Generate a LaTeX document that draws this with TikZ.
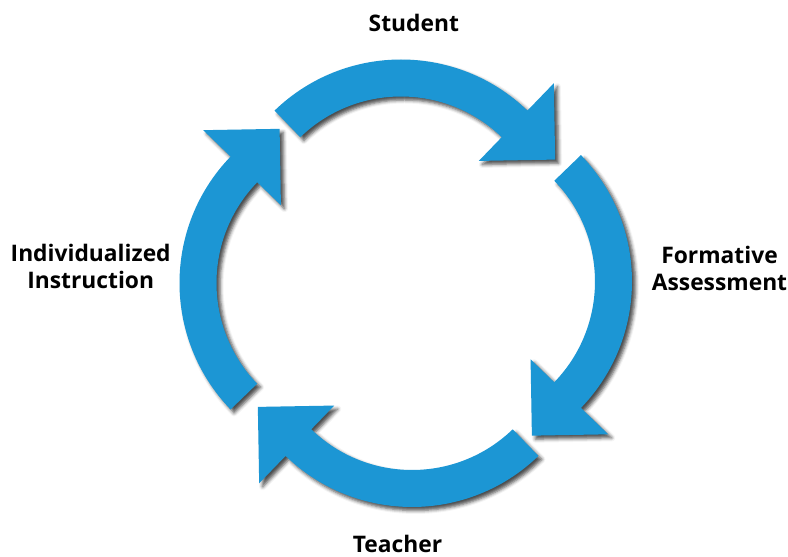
\documentclass[tikz,border=0pt]{standalone}
\usepackage{fontspec}
\setmainfont{Open Sans}
\usepackage{tikz}
\usetikzlibrary{calc,shadows.blur}
\definecolor{cycleblue}{RGB}{28,150,212}
\tikzset{
	cyclearrow/.style={
			fill=cycleblue, draw=none,
			blur shadow={shadow xshift=3.5pt, shadow yshift=-3.5pt,
					shadow blur radius=3.5pt, shadow opacity=70}
		}
}

\begin{document}
\begin{tikzpicture}[x=1pt,y=1pt]
  \useasboundingbox (0,0) rectangle (788,557);
  \tikzstyle{phase}=[font=\bfseries\fontsize{22.8}{27}\selectfont,align=center,inner sep=0pt]

  % one arc arrow per quarter, head at the clockwise end
  \foreach \name/\cx/\cy/\mid in {top/401/315.5/90, right/450/275.5/0, bottom/412/232/270, left/361.5/274/180} {
    \coordinate (c\name) at (\cx,\cy);
    \pgfmathsetmacro{\a}{\mid+44}
    \pgfmathsetmacro{\b}{\mid-44}
    \path[cyclearrow] ($(c\name)+(\a:182)$) arc[start angle=\a, end angle=\b, radius=182]
      -- ($(c\name)+(\b:220)$) -- ($(c\name)+(\b:166)+({\b-90}:54)$)
      -- ($(c\name)+(\b:112)$) -- ($(c\name)+(\b:145)$)
      arc[start angle=\b, end angle=\a, radius=145] -- cycle;
  }

  \node[phase, anchor=base] (student) at (413.8,525.3) {Student};
  \node[phase] (formative) at (719.5,289) {Formative\\Assessment};
  \node[phase, anchor=base] (teacher) at (397.5,4.5) {Teacher};
  \node[phase] (instruction) at (90.7,290.3) {Individualized\\Instruction};
\end{tikzpicture}
\end{document}
